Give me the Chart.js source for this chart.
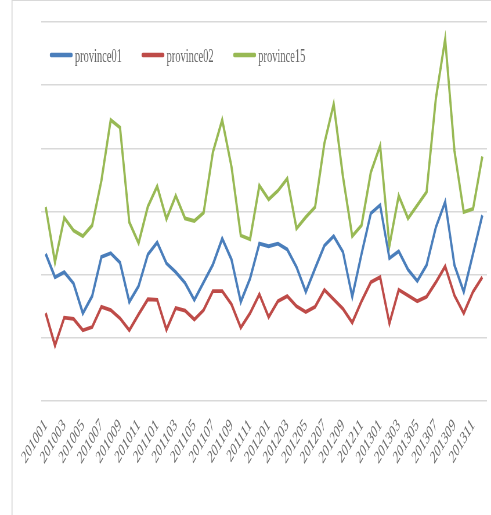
<!DOCTYPE html>
<html>
<head>
<meta charset="utf-8">
<script src="https://cdn.jsdelivr.net/npm/chart.js@4/dist/chart.umd.min.js"></script>
<style>
  html, body { margin: 0; padding: 0; background: #fff; overflow: hidden; }
  /* the reference is a horizontally squeezed picture, so draw wide and squeeze */
  #wrap { width: 846px; height: 515px; transform: scaleX(0.5804); transform-origin: 0 0; }
</style>
</head>
<body>
<div id="wrap"><canvas id="chart" width="846" height="515"></canvas></div>
<script>
// Data
const months = [
  '201001','201002','201003','201004','201005','201006','201007','201008','201009','201010','201011','201012',
  '201101','201102','201103','201104','201105','201106','201107','201108','201109','201110','201111','201112',
  '201201','201202','201203','201204','201205','201206','201207','201208','201209','201210','201211','201212',
  '201301','201302','201303','201304','201305','201306','201307','201308','201309','201310','201311','201312'
];
const seriesNames = ['province01', 'province02', 'province15'];
const province01 = [23.3,19.6,20.4,18.6,13.9,16.6,22.8,23.4,21.9,15.7,18.2,23.2,25.1,
  21.8,20.4,18.7,16.0,18.8,21.6,25.7,22.4,15.7,19.4,24.9,24.5,
  24.9,24.0,21.2,17.3,21.0,24.6,26.1,23.6,16.5,23.3,29.7,31.0,
  22.6,23.7,20.8,19.0,21.5,27.5,31.5,21.5,17.3,23.3,29.4];
const province02 = [13.9,8.8,13.2,13.0,11.2,11.7,14.9,14.4,13.1,11.2,13.7,16.1,16.0,
  11.3,14.7,14.3,12.9,14.4,17.4,17.4,15.3,11.6,13.9,16.9,13.3,
  15.8,16.6,15.0,14.1,14.9,17.6,16.1,14.6,12.4,15.8,18.8,19.6,
  12.3,17.6,16.7,15.8,16.5,18.8,21.3,16.7,13.9,17.3,19.6];
const province15 = [30.7,22.0,29.0,27.0,26.1,27.8,34.9,44.5,43.3,28.3,25.0,30.8,34.0,
  28.8,32.5,28.9,28.5,29.8,39.4,44.5,37.1,26.2,25.6,34.1,31.9,
  33.3,35.2,27.3,29.1,30.7,40.8,47.0,35.5,26.1,27.8,36.2,40.4,
  24.6,32.5,28.9,31.0,33.1,47.9,57.3,39.6,29.9,30.4,38.7];
const colors = ['#4a7ebb', '#be4b48', '#98b954'];

const FONT = '"Liberation Serif", "DejaVu Serif", serif';

// Frame around the chart
const framePlugin = {
  id: 'frame',
  beforeDraw(chart) {
    const ctx = chart.ctx;
    ctx.save();
    ctx.strokeStyle = '#d9d9d9';
    ctx.lineWidth = 1;
    ctx.beginPath();
    ctx.moveTo(20, 0.5);
    ctx.lineTo(chart.width, 0.5);
    ctx.stroke();
    ctx.lineWidth = 1.8;
    ctx.beginPath();
    ctx.moveTo(20.7, 0);
    ctx.lineTo(20.7, chart.height);
    ctx.stroke();
    ctx.restore();
  }
};

// Legend drawn inside the plot area
const legendPlugin = {
  id: 'innerLegend',
  afterDraw(chart) {
    const ctx = chart.ctx;
    ctx.save();
    ctx.font = '18px ' + FONT;
    ctx.textBaseline = 'middle';
    let x = 88;
    const y = 56;
    chart.data.datasets.forEach((ds) => {
      ctx.strokeStyle = ds.borderColor;
      ctx.lineWidth = 4.5;
      ctx.lineCap = 'round';
      ctx.beginPath();
      ctx.moveTo(x, y - 1);
      ctx.lineTo(x + 35, y - 1);
      ctx.stroke();
      ctx.fillStyle = '#666';
      ctx.fillText(ds.label, x + 41, y + 1);
      x += 41 + ctx.measureText(ds.label).width + 36;
    });
    ctx.restore();
  }
};

new Chart(document.getElementById('chart'), {
  type: 'line',
  data: {
    labels: months,
    datasets: [province01, province02, province15].map((vals, i) => ({
      label: seriesNames[i],
      data: vals,
      borderColor: colors[i],
      backgroundColor: colors[i],
      borderWidth: 3.8,
      pointRadius: 0,
      tension: 0,
      fill: false,
    })),
  },
  options: {
    responsive: false,
    animation: false,
    layout: { padding: { left: 70.7, right: 7, top: 22, bottom: 0 } },
    plugins: { legend: { display: false }, tooltip: { enabled: false } },
    scales: {
      x: {
        offset: true,
        grid: { display: false },
        border: { display: false },
        ticks: {
          autoSkip: false,
          minRotation: 45,
          maxRotation: 45,
          padding: 6,
          color: '#6a6a6a',
          font: { family: FONT, size: 18 },
          callback(value, index) { return index % 2 === 0 ? months[index] : ''; },
        },
        afterFit(scale) {
          scale.height = 114;
          scale.paddingLeft = 0;
          scale.paddingRight = 0;
        },
      },
      y: {
        min: 0,
        max: 60,
        ticks: { display: false, stepSize: 10 },
        grid: { color: '#d9d9d9', lineWidth: 1.4, drawTicks: false },
        border: { display: false },
        afterFit(scale) { scale.width = 0; },
      },
    },
  },
  plugins: [framePlugin, legendPlugin],
});
</script>
</body>
</html>
